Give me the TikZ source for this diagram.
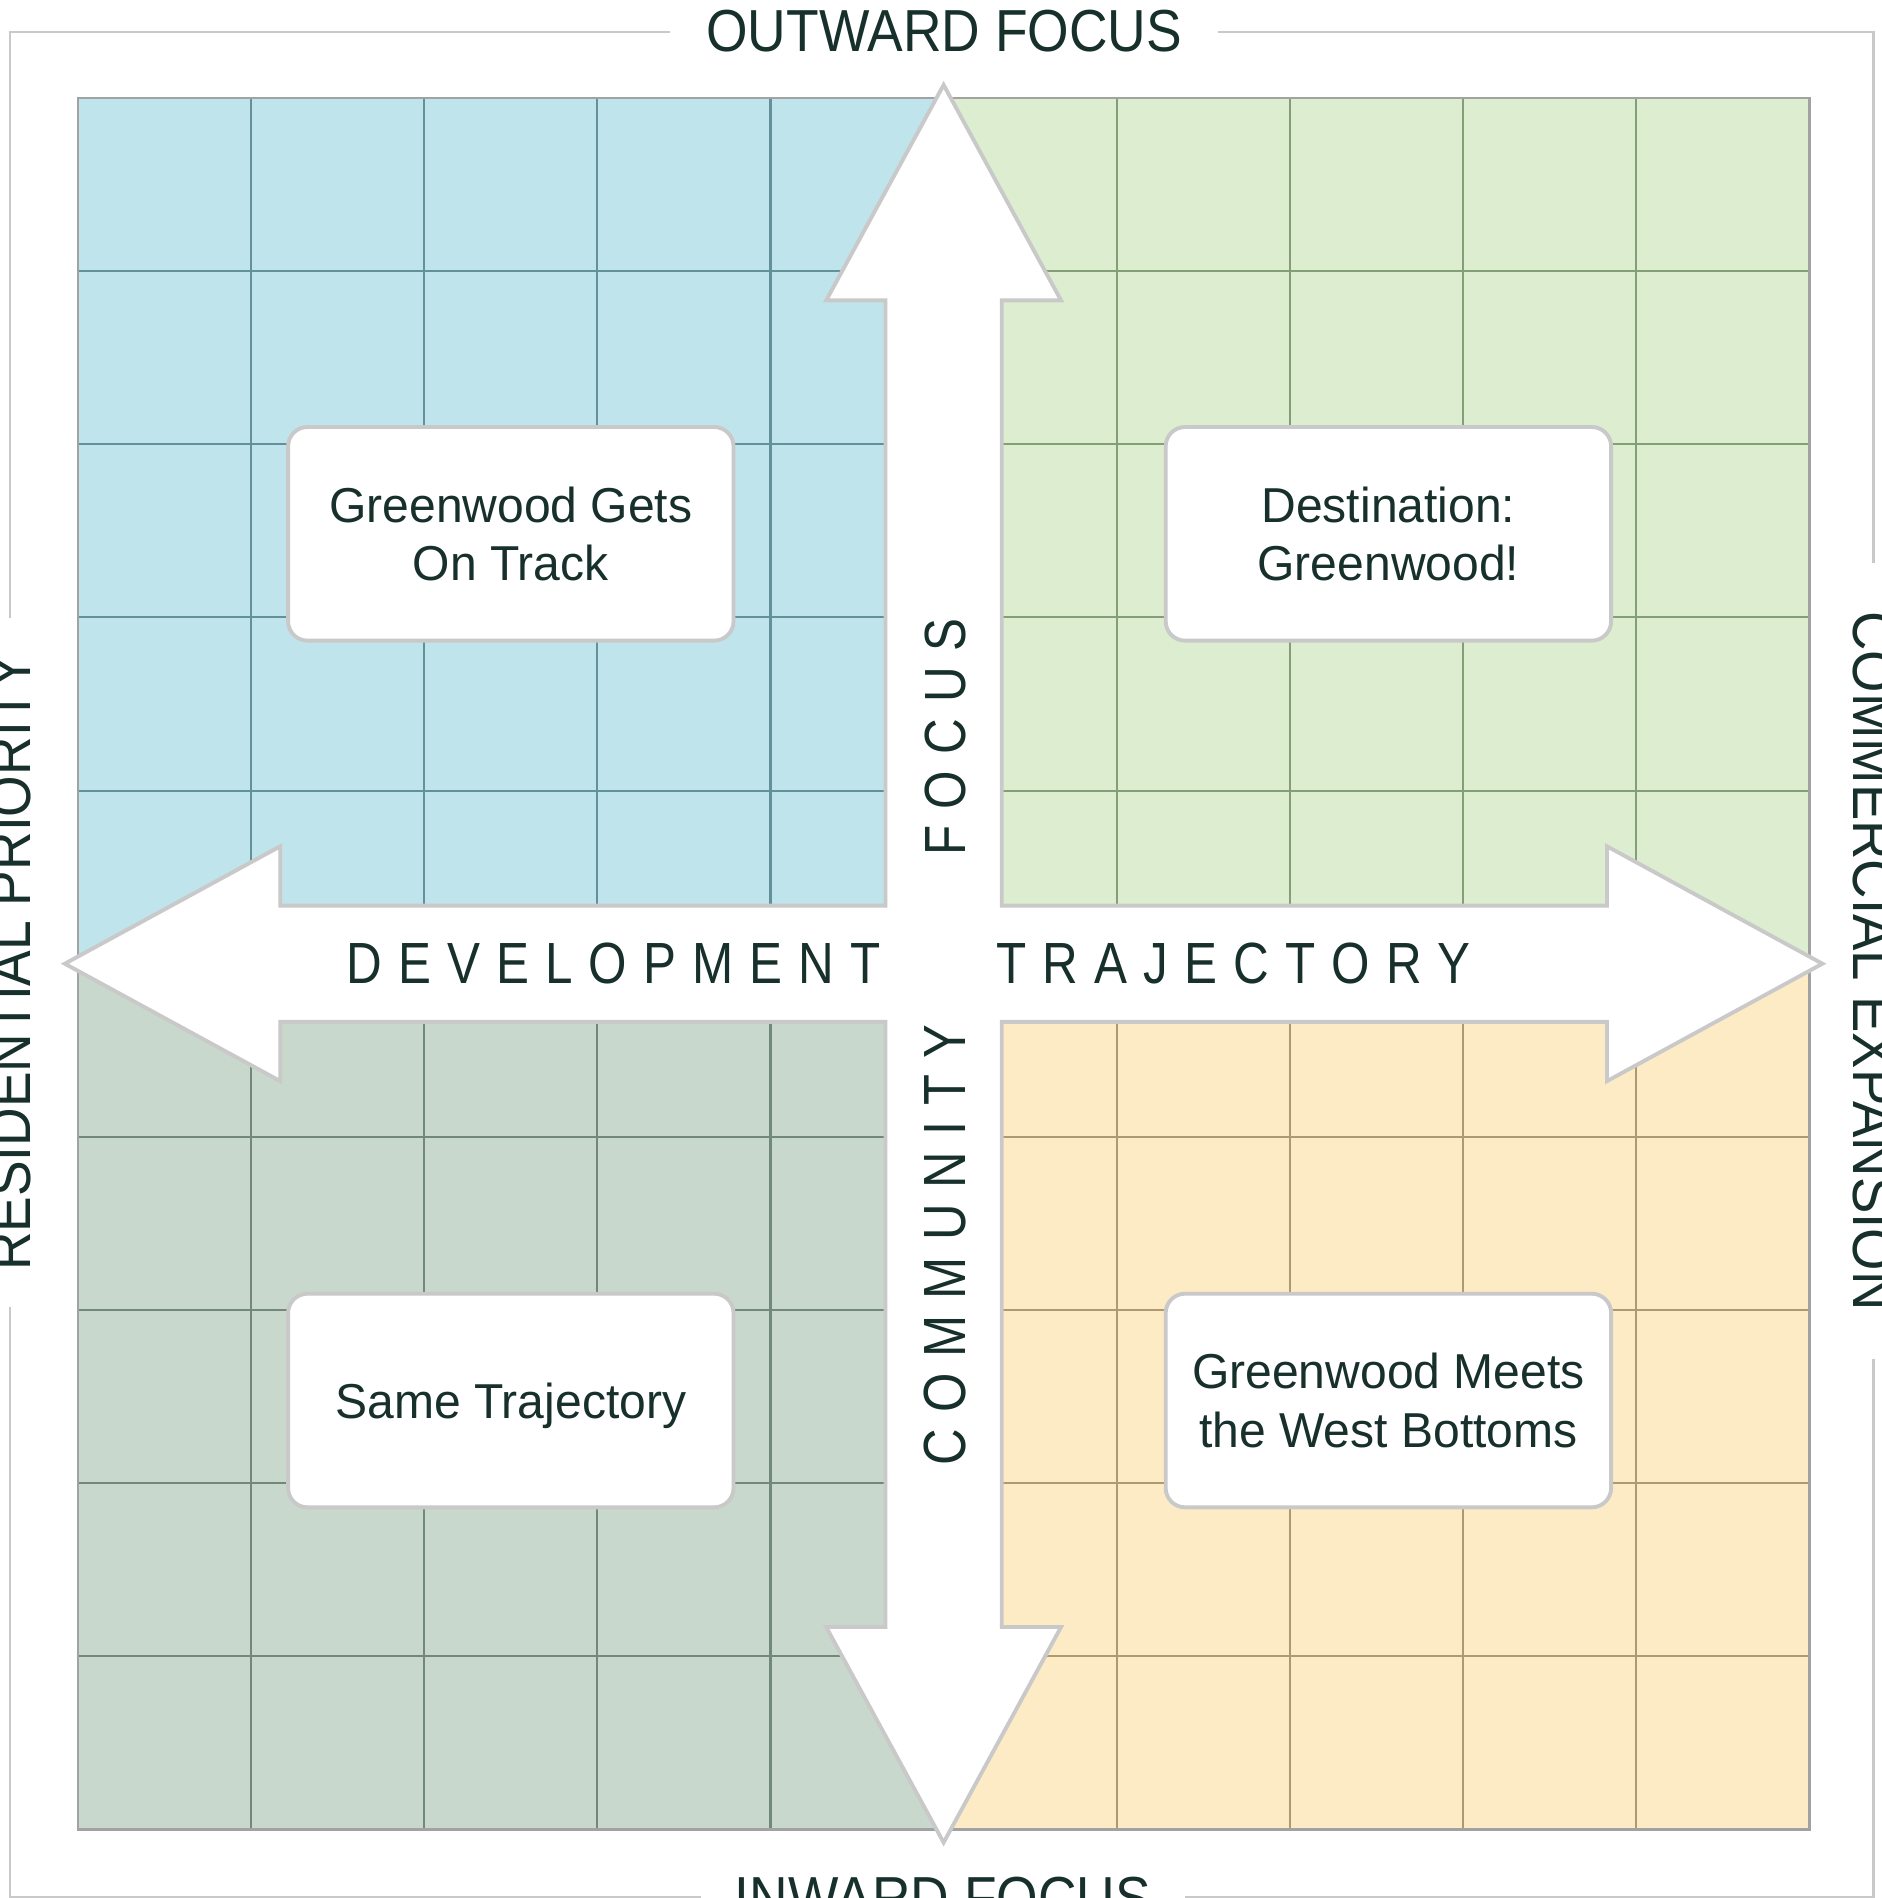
\documentclass[tikz,border=0pt]{standalone}
\usepackage{fontspec}
\setmainfont{Liberation Sans}
\newfontfamily\outerfont[FakeStretch=0.9]{Liberation Sans}
\newfontfamily\outerwide[FakeStretch=0.92]{Liberation Sans}
\newfontfamily\spfont[FakeStretch=0.85]{Liberation Sans}
\newfontfamily\boxfont[FakeStretch=0.98]{Liberation Sans}
\definecolor{qtl}{HTML}{C0E4EB}
\definecolor{qtr}{HTML}{DCEDD0}
\definecolor{qbl}{HTML}{C9D8CC}
\definecolor{qbr}{HTML}{FDEBC6}
\definecolor{ltl}{HTML}{64909A}
\definecolor{ltr}{HTML}{849E78}
\definecolor{lbl}{HTML}{728879}
\definecolor{lbr}{HTML}{AD9A70}
\definecolor{gborder}{HTML}{A2A2A2}
\definecolor{lgray}{HTML}{C9C9C9}
\definecolor{ink}{HTML}{17302B}
\newdimen\lsp
\lsp=6.65pt
\def\spc#1{\spcA#1\relax}
\def\spcA#1{#1\spcB}
\def\spcB#1{\ifx\relax#1\else\kern\lsp#1\expandafter\spcB\fi}
\newcommand{\qgrid}[4]{%
  \begin{scope}
    \clip (#1,#2) rectangle ++(715.15,715.15);
    \fill[#3] (#1,#2) rectangle ++(715.15,715.15);
    \foreach \i in {1,2,3,4} {
      \draw[#4, gridline] ({#1+\i*143.03},#2) -- ++(0,715.15);
      \draw[#4, gridline] (#1,{#2+\i*143.03}) -- ++(715.15,0);
    }
  \end{scope}}
\tikzset{
  framest/.style={draw=lgray, line width=0.9pt},
  gridline/.style={line width=0.85pt},
  gridborder/.style={draw=gborder, line width=1pt},
  outerlabel/.style={fill=white, text=ink, font=\outerfont\fontsize{24.5}{29}\selectfont, inner ysep=2pt},
  axislabel/.style={text=ink, font=\spfont\fontsize{24}{28}\selectfont, inner sep=0pt},
  qbox/.style={draw=lgray, line width=1.6pt, fill=white, rounded corners=8pt,
    minimum width=184pt, minimum height=88.25pt, align=center, text=ink,
    font=\boxfont\fontsize{20.25}{24}\selectfont, inner sep=0pt},
  arrowst/.style={fill=white, draw=lgray, line width=1.6pt, line join=miter},
}
\begin{document}
\begin{tikzpicture}[x=0.5pt,y=-0.5pt]
\useasboundingbox (0,0) rectangle (1554,1568);
% quadrants
\qgrid{64.4}{81}{qtl}{ltl}
\qgrid{779.55}{81}{qtr}{ltr}
\qgrid{64.4}{796.15}{qbl}{lbl}
\qgrid{779.55}{796.15}{qbr}{lbr}
\draw[gridborder] (64.4,81) rectangle (1494.7,1511.3);
% cross arrow
\filldraw[arrowst] (779.55,70.15) -- (876.55,248.15) -- (827.55,248.15) -- (827.55,748.15)
  -- (1327.55,748.15) -- (1327.55,699.15) -- (1505.55,796.15) -- (1327.55,893.15)
  -- (1327.55,844.15) -- (827.55,844.15) -- (827.55,1344.15) -- (876.55,1344.15)
  -- (779.55,1522.15) -- (682.55,1344.15) -- (731.55,1344.15) -- (731.55,844.15)
  -- (231.55,844.15) -- (231.55,893.15) -- (53.55,796.15) -- (231.55,699.15)
  -- (231.55,748.15) -- (731.55,748.15) -- (731.55,248.15) -- (682.55,248.15) -- cycle;
% axis labels
\node[axislabel, anchor=east] (dev) at (728,796.15) {\spc{DEVELOPMENT}};
\node[axislabel, anchor=west] (traj) at (823,796.15) {\spc{TRAJECTORY}};
\node[axislabel, rotate=90, anchor=west] (focus) at (781,707) {\spc{FOCUS}};
\node[axislabel, rotate=90, anchor=east, font=\spfont\fontsize{24.6}{28}\selectfont] (comm) at (781,846) {\spc{COMMUNITY}};
% scenario boxes
\node[qbox] (b1) at (422,441) {Greenwood Gets\\On Track};
\node[qbox] (b2) at (1147,441) {Destination:\\Greenwood!};
\node[qbox, text depth=0pt] (b3) at (422,1157) {Same Trajectory};
\node[qbox] (b4) at (1147,1157) {Greenwood Meets\\the West Bottoms};
% outer frame and labels
\draw[framest] (8,26.5) rectangle (1547.7,1567);
\node[outerlabel, inner xsep=15pt] (outward) at (780,26) {OUTWARD FOCUS};
\node[outerlabel, inner xsep=14pt] (inward) at (779,1568) {INWARD FOCUS};
\node[outerlabel, inner xsep=15pt, rotate=90] (resid) at (8,795) {RESIDENTIAL PRIORITY};
\node[outerlabel, inner xsep=20pt, rotate=-90, font=\outerwide\fontsize{24.5}{29}\selectfont] (commexp) at (1548,794) {COMMERCIAL EXPANSION};
\end{tikzpicture}
\end{document}
